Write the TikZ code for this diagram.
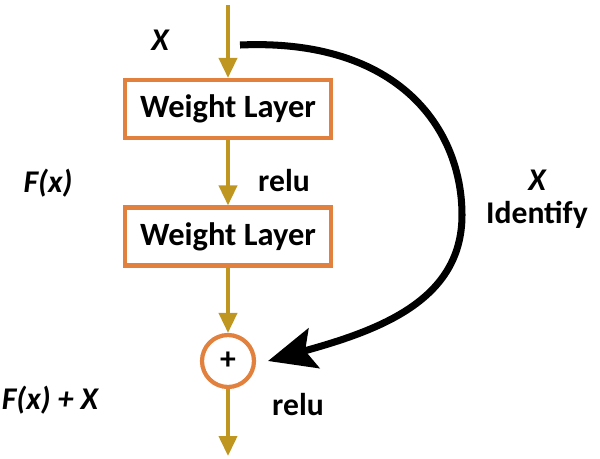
\documentclass[tikz,border=0pt]{standalone}
\usepackage{fontspec}
\setmainfont{Carlito}
\usepackage{xcolor}
\usetikzlibrary{arrows.meta}
\definecolor{flowgold}{RGB}{191,150,32}
\definecolor{layerorange}{RGB}{226,129,61}

\begin{document}
\begin{tikzpicture}[x=0.02cm,y=-0.02cm,
  layer/.style={draw=layerorange,line width=2.4pt,fill=white,
    minimum width=4.12cm,minimum height=1.16cm,inner sep=0pt,
    font=\fontsize{18.5}{22}\selectfont\bfseries},
  sumnode/.style={circle,draw=layerorange,line width=2.4pt,fill=white,
    minimum size=1.04cm,inner sep=0pt,font=\fontsize{18}{20}\selectfont\bfseries},
  lbl/.style={font=\fontsize{18}{21}\selectfont\bfseries},
  flow/.style={flowgold,line width=2.2pt,-{Triangle[length=0.4cm,width=0.36cm]}},
  skip/.style={black,line width=4pt,-{Stealth[length=0.95cm,width=0.82cm,inset=0.18cm]}}]
  \useasboundingbox (0,0) rectangle (600,458);

  % Blocks
  \coordinate (in) at (228,5);
  \node[layer] (wl1) at (228,109) {Weight Layer};
  \node[layer] (wl2) at (228,236.5) {Weight Layer};
  \node[sumnode] (sum) at (228,361) {+};
  \coordinate (out) at (228,456);

  % Main path
  \draw[flow] (in) -- (wl1);
  \draw[flow] (wl1) -- (wl2);
  \draw[flow] (wl2) -- (sum);
  \draw[flow] (sum) -- (out);

  % Shortcut
  \coordinate (xin) at (240,45);
  \coordinate (xadd) at (268,361);
  \draw[skip] (xin) .. controls (400,38) and (462,130) .. (462,215)
    .. controls (462,300) and (380,330) .. (xadd);

  % Labels
  \node[lbl] (xtop) at (160,40) {\itshape X};
  \node[lbl] (fx) at (48,183) {\itshape F(x)};
  \node[lbl] (relu1) at (284,181) {relu};
  \node[lbl] (fxx) at (50,400) {\itshape F(x) + X};
  \node[lbl] (relu2) at (298,405) {relu};
  \node[lbl] (xid) at (537,180) {\itshape X};
  \node[lbl] (ident) at (537,215) {Identify};
\end{tikzpicture}
\end{document}
